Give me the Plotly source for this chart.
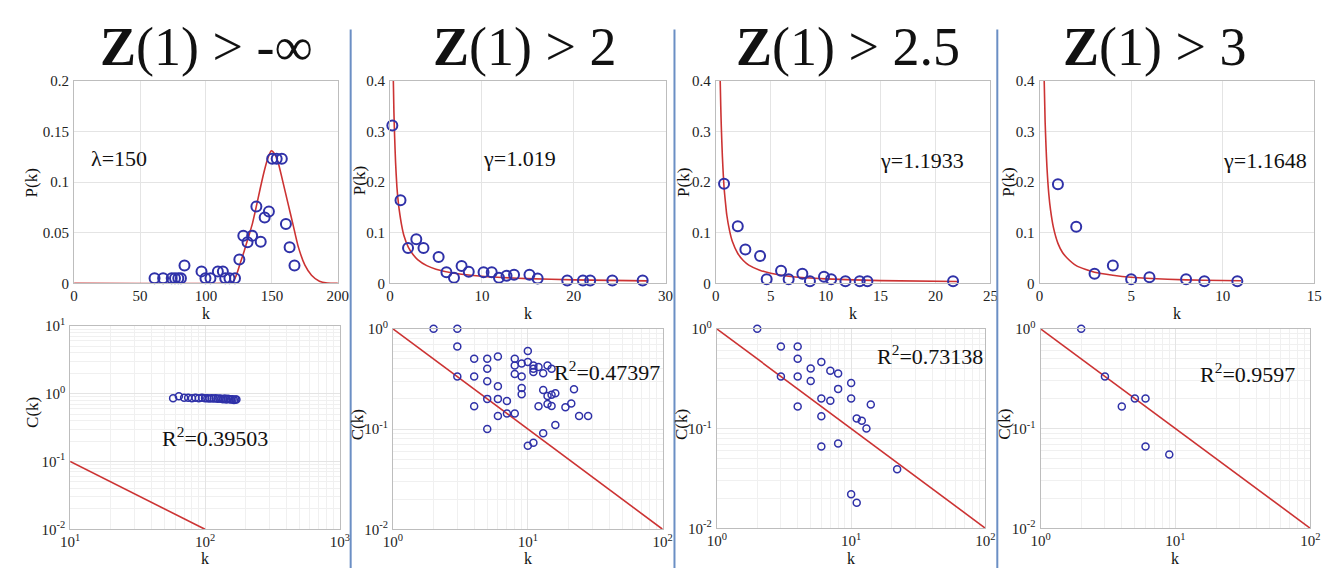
import plotly.graph_objects as go

W, H = 1331, 568
FONT = "Liberation Serif"
BLUE = "#2f31a8"
RED = "#cc3333"

# ---------------- data ----------------
titles = ["<b>Z</b>(1) > -∞", "<b>Z</b>(1) > 2", "<b>Z</b>(1) > 2.5", "<b>Z</b>(1) > 3"]
fit_labels = ["λ=150", "γ=1.019", "γ=1.1933", "γ=1.1648"]
r2_labels = ["R<sup>2</sup>=0.39503", "R<sup>2</sup>=0.47397", "R<sup>2</sup>=0.73138", "R<sup>2</sup>=0.9597"]

# top row: degree distributions P(k)
p1_k = [61, 67.5, 74, 76.5, 79, 81, 83.7, 96.6, 99.6, 103.4, 109, 112.8, 114.6, 117.8, 122,
        125.3, 128.3, 131.5, 135, 138.2, 141.5, 144.5, 147.7, 150.2, 153.6, 157.5, 160.6, 163.4, 167.1]
p1_p = [0.005, 0.005, 0.005, 0.005, 0.005, 0.005, 0.0175, 0.0118, 0.005, 0.005, 0.0118, 0.0118, 0.005, 0.005, 0.005,
        0.0236, 0.047, 0.0405, 0.047, 0.076, 0.041, 0.065, 0.071, 0.123, 0.123, 0.123, 0.0587, 0.0357, 0.0175]
p1_fit_k = [0, 115, 120, 123, 126, 129, 132, 135, 138, 141, 144, 147, 149.5, 152, 155, 158, 162, 166, 170, 175, 180, 186, 192, 200]
p1_fit_p = [0, 0, 0.0005, 0.008, 0.02, 0.032, 0.045, 0.058, 0.075, 0.093, 0.11, 0.124, 0.131, 0.128, 0.118, 0.102,
            0.08, 0.058, 0.036, 0.018, 0.008, 0.002, 0.0003, 0]

p2_k = [0.25, 1.14, 1.96, 2.86, 3.64, 5.29, 6.14, 6.96, 7.79, 8.57, 10.18, 11.07, 11.86, 12.68, 13.5, 15.18, 16.07,
        19.29, 21.0, 21.79, 24.2, 27.5]
p2_p = [0.312, 0.164, 0.07, 0.087, 0.07, 0.052, 0.022, 0.011, 0.034, 0.023, 0.022, 0.022, 0.011, 0.015, 0.017, 0.017,
        0.0095, 0.0057, 0.0057, 0.0057, 0.0057, 0.0057]
p2_fit_k = [0.36, 0.42, 0.5, 0.6, 0.75, 0.9, 1, 1.25, 1.5, 2, 2.5, 3, 4, 5, 7, 10, 15, 20, 28]
p2_fit_p = [0.40, 0.34, 0.29, 0.24, 0.19, 0.16, 0.145, 0.116, 0.095, 0.071, 0.057, 0.047, 0.035, 0.028, 0.020,
            0.014, 0.0093, 0.0069, 0.0049]

p3_k = [0.75, 2.0, 2.69, 4.03, 4.63, 5.94, 6.63, 7.88, 8.57, 9.85, 10.5, 11.8, 13.1, 13.8, 21.6]
p3_p = [0.197, 0.113, 0.067, 0.054, 0.008, 0.025, 0.008, 0.019, 0.004, 0.013, 0.008, 0.004, 0.004, 0.004, 0.004]
p3_fit_k = [0.4, 0.45, 0.5, 0.6, 0.75, 0.9, 1, 1.25, 1.5, 2, 2.5, 3, 4, 5, 7, 10, 15, 22]
p3_fit_p = [0.40, 0.35, 0.31, 0.25, 0.19, 0.155, 0.135, 0.104, 0.083, 0.059, 0.045, 0.036, 0.026, 0.020, 0.013,
            0.0087, 0.0054, 0.0035]

p4_k = [1, 2, 3, 4, 5, 6, 8, 9, 10.8]
p4_p = [0.196, 0.112, 0.019, 0.035, 0.008, 0.012, 0.008, 0.004, 0.004]
p4_fit_k = [0.25, 0.3, 0.35, 0.4, 0.5, 0.6, 0.75, 1, 1.25, 1.5, 2, 3, 4, 5, 7, 9, 11]
p4_fit_p = [0.40, 0.32, 0.27, 0.23, 0.177, 0.144, 0.111, 0.079, 0.061, 0.05, 0.035, 0.022, 0.016, 0.012, 0.008,
            0.006, 0.005]

# bottom row: clustering C(k)
c1_k = [58, 64, 70, 75, 80, 85, 90, 95, 100, 104, 108, 112, 116, 120, 124, 128, 132, 136, 140, 144, 148,
        152, 156, 160, 164, 168, 171]
c1_c = [0.86, 0.92, 0.87, 0.87, 0.86, 0.87, 0.86, 0.87, 0.86, 0.86, 0.85, 0.86, 0.85, 0.86, 0.84, 0.85, 0.84,
        0.83, 0.85, 0.82, 0.84, 0.83, 0.82, 0.83, 0.81, 0.82, 0.82]
c1_fit_k = [10, 100]
c1_fit_c = [0.1, 0.01]

c2_k = [2, 3, 3, 3, 4, 4, 4, 5, 5, 5, 5, 5, 6, 6, 6, 6, 7, 7, 8, 8, 8, 8, 9, 9, 9, 9, 10, 10, 10, 11, 11, 11, 11,
        12, 12, 13, 13, 13, 14, 14, 14, 15, 15, 15, 16, 16, 19, 21, 22, 24, 28]
c2_c = [1.0, 1.0, 0.665, 0.334, 0.502, 0.334, 0.169, 0.502, 0.40, 0.30, 0.20, 0.10, 0.53, 0.267, 0.20, 0.135,
        0.19, 0.143, 0.502, 0.43, 0.354, 0.143, 0.45, 0.334, 0.257, 0.222, 0.60, 0.466, 0.068, 0.43, 0.40, 0.37,
        0.073, 0.416, 0.169, 0.36, 0.245, 0.091, 0.43, 0.214, 0.178, 0.40, 0.22, 0.17, 0.227, 0.11, 0.165, 0.18,
        0.25, 0.135, 0.135]
c2_fit_k = [1, 100]
c2_fit_c = [1, 0.01]

c3_k = [2, 3, 3, 4, 4, 4, 4, 5, 5, 6, 6, 6, 6, 7, 7, 8, 8, 8, 10, 10, 10, 11, 11, 12, 13, 14, 22]
c3_c = [1.0, 0.664, 0.332, 0.664, 0.50, 0.332, 0.166, 0.40, 0.30, 0.464, 0.20, 0.133, 0.066, 0.38, 0.19, 0.357,
        0.25, 0.071, 0.286, 0.20, 0.022, 0.126, 0.018, 0.12, 0.10, 0.174, 0.039]
c3_fit_k = [1, 100]
c3_fit_c = [1, 0.01]

c4_k = [2, 3, 4, 5, 6, 6, 9]
c4_c = [1.0, 0.332, 0.166, 0.20, 0.20, 0.066, 0.055]
c4_fit_k = [1, 100]
c4_fit_c = [1, 0.01]

top_x_ranges = [[0, 200], [0, 30], [0, 25], [0, 15]]
top_x_dticks = [50, 10, 5, 5]
top_y_max = [0.2, 0.4, 0.4, 0.4]
top_y_ticks = [[0, 0.05, 0.1, 0.15, 0.2], [0, 0.1, 0.2, 0.3, 0.4], [0, 0.1, 0.2, 0.3, 0.4], [0, 0.1, 0.2, 0.3, 0.4]]
top_y_ticktext = [["0", "0.05", "0.1", "0.15", "0.2"], ["0", "0.1", "0.2", "0.3", "0.4"],
                  ["0", "0.1", "0.2", "0.3", "0.4"], ["0", "0.1", "0.2", "0.3", "0.4"]]
bot_x_decades = [[1, 3], [0, 2], [0, 2], [0, 2]]
bot_y_decades = [[-2, 1], [-2, 0], [-2, 0], [-2, 0]]

# ---------------- layout geometry (pixels) ----------------
top_px = [(57, 325), (378, 658), (709, 988), (1038, 1317)]
top_py = (65, 274)
bot_px = [(53, 327), (381, 655), (710, 983), (1039, 1313)]
bot_py = [(318, 528), (321, 528), (321, 527), (321, 527)]
title_cx = [192, 515, 843, 1155]
fit_pos = [(72, 145, "left"), (470, 145, "left"), (874, 147, "left"), (1222, 147, "left")]
r2_pos = [(200, 433), (598, 365), (927, 348), (1249, 367)]
ylab_top = [(14, 170), (347, 168), (676, 170), (1006, 170)]
ylab_bot = [(14, 407), (345, 420), (674, 420), (1003, 420)]
separators = [338, 667, 995]


def fx(px):
    return px / W


def fy(py):
    return 1 - py / H


top_data = [(p1_k, p1_p, p1_fit_k, p1_fit_p), (p2_k, p2_p, p2_fit_k, p2_fit_p),
            (p3_k, p3_p, p3_fit_k, p3_fit_p), (p4_k, p4_p, p4_fit_k, p4_fit_p)]
bot_data = [(c1_k, c1_c, c1_fit_k, c1_fit_c), (c2_k, c2_c, c2_fit_k, c2_fit_c),
            (c3_k, c3_c, c3_fit_k, c3_fit_c), (c4_k, c4_c, c4_fit_k, c4_fit_c)]

fig = go.Figure()
layout = {}
tickfont = dict(family=FONT, size=15, color="#222")
axis_common = dict(showline=True, mirror=True, linecolor="#bdbdbd", linewidth=1, ticks="",
                   showgrid=True, gridcolor="#e4e4e4", zeroline=False, tickfont=tickfont)
xstand = dict(ticklabelstandoff=-1)
ystand = dict(ticklabelstandoff=1)


def minor_vals(d0, d1):
    return [m * 10 ** e for e in range(d0, d1) for m in range(2, 10)]


for i in range(4):
    n = i + 1
    xa, ya = f"x{n if n > 1 else ''}", f"y{n if n > 1 else ''}"
    k, p, fk, fp = top_data[i]
    fig.add_trace(go.Scatter(x=fk, y=fp, mode="lines", line=dict(color=RED, width=1.6, shape="spline", smoothing=0.6),
                             xaxis=xa, yaxis=ya, showlegend=False))
    fig.add_trace(go.Scatter(x=k, y=p, mode="markers", cliponaxis=False,
                             marker=dict(symbol="circle-open", size=10, color=BLUE, line=dict(width=2, color=BLUE)),
                             xaxis=xa, yaxis=ya, showlegend=False))
    layout[f"xaxis{n}"] = dict(axis_common, **xstand, domain=[fx(top_px[i][0]), fx(top_px[i][1])],
                               range=top_x_ranges[i], dtick=top_x_dticks[i], anchor=ya)
    layout[f"yaxis{n}"] = dict(axis_common, **ystand, domain=[fy(top_py[1]), fy(top_py[0])], range=[0, top_y_max[i]],
                               tickvals=top_y_ticks[i], ticktext=top_y_ticktext[i], anchor=xa)

    m = i + 5
    xa, ya = f"x{m}", f"y{m}"
    k, c, fk, fc = bot_data[i]
    fig.add_trace(go.Scatter(x=fk, y=fc, mode="lines", line=dict(color=RED, width=1.6),
                             xaxis=xa, yaxis=ya, showlegend=False))
    fig.add_trace(go.Scatter(x=k, y=c, mode="markers", cliponaxis=False,
                             marker=dict(symbol="circle-open", size=7, color=BLUE, line=dict(width=1.5, color=BLUE)),
                             xaxis=xa, yaxis=ya, showlegend=False))
    xd = bot_x_decades[i]
    yd = bot_y_decades[i]
    xv = [10 ** e for e in range(xd[0], xd[1] + 1)]
    yv = [10 ** e for e in range(yd[0], yd[1] + 1)]
    layout[f"xaxis{m}"] = dict(axis_common, **xstand, type="log", domain=[fx(bot_px[i][0]), fx(bot_px[i][1])],
                               range=xd, tickvals=xv,
                               ticktext=[f"10<sup>{e}</sup>" for e in range(xd[0], xd[1] + 1)], anchor=ya,
                               minor=dict(tickmode="array", tickvals=minor_vals(xd[0], xd[1]), showgrid=True,
                                          gridcolor="#f0f0f0", ticks=""))
    layout[f"yaxis{m}"] = dict(axis_common, **ystand, type="log", domain=[fy(bot_py[i][1]), fy(bot_py[i][0])],
                               range=yd, tickvals=yv,
                               ticktext=[f"10<sup>{e}</sup>" for e in range(yd[0], yd[1] + 1)], anchor=xa,
                               minor=dict(tickmode="array", tickvals=minor_vals(yd[0], yd[1]), showgrid=True,
                                          gridcolor="#f0f0f0", ticks=""))

annotations = []
txt = dict(family=FONT, color="#111")
for i in range(4):
    annotations.append(dict(x=fx(title_cx[i]), y=fy(30), xref="paper", yref="paper", text=titles[i],
                            showarrow=False, xanchor="center", yanchor="middle", font=dict(txt, size=54)))
    fxp, fyp, anc = fit_pos[i]
    annotations.append(dict(x=fx(fxp), y=fy(fyp), xref="paper", yref="paper", text=fit_labels[i],
                            showarrow=False, xanchor=anc, yanchor="middle", font=dict(txt, size=22)))
    annotations.append(dict(x=fx(r2_pos[i][0]), y=fy(r2_pos[i][1]), xref="paper", yref="paper", text=r2_labels[i],
                            showarrow=False, xanchor="center", yanchor="middle", font=dict(txt, size=22)))
    annotations.append(dict(x=fx(ylab_top[i][0]), y=fy(ylab_top[i][1]), xref="paper", yref="paper", text="P(k)",
                            showarrow=False, textangle=-90, xanchor="center", yanchor="middle",
                            font=dict(txt, size=17)))
    annotations.append(dict(x=fx(ylab_bot[i][0]), y=fy(ylab_bot[i][1]), xref="paper", yref="paper", text="C(k)",
                            showarrow=False, textangle=-90, xanchor="center", yanchor="middle",
                            font=dict(txt, size=17)))
    annotations.append(dict(x=fx((top_px[i][0] + top_px[i][1]) / 2), y=fy(305), xref="paper", yref="paper",
                            text="k", showarrow=False, xanchor="center", yanchor="middle", font=dict(txt, size=16)))
    annotations.append(dict(x=fx((bot_px[i][0] + bot_px[i][1]) / 2), y=fy(558), xref="paper", yref="paper",
                            text="k", showarrow=False, xanchor="center", yanchor="middle", font=dict(txt, size=16)))

shapes = [dict(type="line", xref="paper", yref="paper", x0=fx(s), x1=fx(s), y0=0, y1=fy(12),
               line=dict(color="#6b8fc4", width=2)) for s in separators]

fig.update_layout(width=W, height=H, autosize=False, margin=dict(l=0, r=0, t=0, b=0),
                  paper_bgcolor="white", plot_bgcolor="white", annotations=annotations, shapes=shapes,
                  font=dict(family=FONT), **layout)

fig.write_html("out.html")
